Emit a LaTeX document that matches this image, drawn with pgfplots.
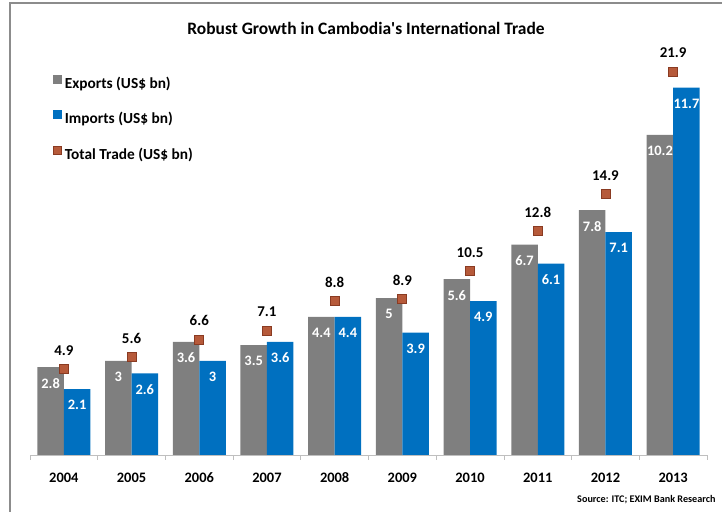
\documentclass[border=0pt]{standalone}
\usepackage{pgfplots}
\pgfplotsset{compat=1.18}
\usepackage{fontspec}
\setmainfont{Carlito}[Ligatures=TeXOff]
\definecolor{expc}{HTML}{7F7F7F}
\definecolor{impc}{HTML}{0070C0}
\definecolor{totc}{HTML}{B65A3A}
\definecolor{totd}{HTML}{8A3B22}
\definecolor{framec}{HTML}{8C8C8C}
\definecolor{axc}{HTML}{BFBFBF}
\begin{document}
\begin{tikzpicture}[x=1bp,y=1bp]
\path[use as bounding box] (0,0) rectangle (722,512);
\draw[framec, line width=2.5bp] (10,0) -- (10,509) -- (722,509);
\node[font=\bfseries\fontsize{17.5}{20}\selectfont] at (366,484) {Robust Growth in Cambodia's International Trade};
\node[font=\bfseries\fontsize{10.2}{12}\selectfont, anchor=east] at (719,12) {Source: ITC; EXIM Bank Research};
\begin{axis}[
  at={(30bp,57bp)}, anchor=south west, scale only axis,
  width=677bp, height=415bp,
  xmin=-0.5, xmax=9.5, ymin=0, ymax=13.22,
  axis x line*=bottom, axis y line=none,
  axis line style={axc, line width=0.8bp, -},
  xtick={0,...,9},
  xticklabels={2004,2005,2006,2007,2008,2009,2010,2011,2012,2013},
  minor xtick={-0.5,0.5,...,9.5},
  major tick length=0pt, minor tick length=5bp,
  tick align=outside,
  minor tick style={axc, line width=0.8bp},
  xticklabel style={font=\bfseries\fontsize{14.5}{17}\selectfont, anchor=center, yshift=-23bp},
  /pgf/number format/assume math mode=true,
  clip=false,
  legend style={at={(0.029,0.921)}, anchor=north west, draw=none, fill=none,
    font=\bfseries\fontsize{15.4}{18}\selectfont, row sep=20.5bp, column sep=3bp,
    nodes={inner sep=0pt}},
  legend cell align=left,
]
\addplot[ybar, bar width=26.5bp, bar shift=-13.25bp, fill=expc, draw=none,
  nodes near coords,
  every node near coord/.append style={font=\bfseries\fontsize{14.5}{16}\selectfont, text=white, anchor=center, xshift=-13.25bp, yshift=-16bp},
  legend image code/.code={\fill[expc] (0bp,-0.5bp) rectangle (9bp,8.5bp);}]
  coordinates {(0,2.8) (1,3) (2,3.6) (3,3.5) (4,4.4) (5,5) (6,5.6) (7,6.7) (8,7.8) (9,10.2)};
\addlegendentry{Exports (US\$ bn)}
\addplot[ybar, bar width=26.5bp, bar shift=13.25bp, fill=impc, draw=none,
  nodes near coords,
  every node near coord/.append style={font=\bfseries\fontsize{14.5}{16}\selectfont, text=white, anchor=center, xshift=13.25bp, yshift=-16bp},
  legend image code/.code={\fill[impc] (0bp,-0.5bp) rectangle (9bp,8.5bp);}]
  coordinates {(0,2.1) (1,2.6) (2,3) (3,3.6) (4,4.4) (5,3.9) (6,4.9) (7,6.1) (8,7.1) (9,11.7)};
\addlegendentry{Imports (US\$ bn)}
\addlegendimage{legend image code/.code={\filldraw[fill=totc, draw=totd, line width=0.8bp] (0.4bp,-0.1bp) rectangle (8.6bp,8.1bp);}}
\addlegendentry{Total Trade (US\$ bn)}
\end{axis}
\begin{axis}[
  at={(30bp,57bp)}, anchor=south west, scale only axis,
  width=677bp, height=415bp,
  xmin=-0.5, xmax=9.5, ymin=0, ymax=23.71,
  hide axis, clip=false,
  /pgf/number format/assume math mode=true,
]
\addplot[only marks, mark=square*, mark size=4.5bp,
  mark options={fill=totc, draw=totd, line width=0.8bp},
  nodes near coords,
  every node near coord/.append style={font=\bfseries\fontsize{15}{17}\selectfont, text=black, anchor=center, yshift=19bp}]
  coordinates {(0,4.9) (1,5.6) (2,6.6) (3,7.1) (4,8.8) (5,8.9) (6,10.5) (7,12.8) (8,14.9) (9,21.9)};
\end{axis}
\end{tikzpicture}
\end{document}
